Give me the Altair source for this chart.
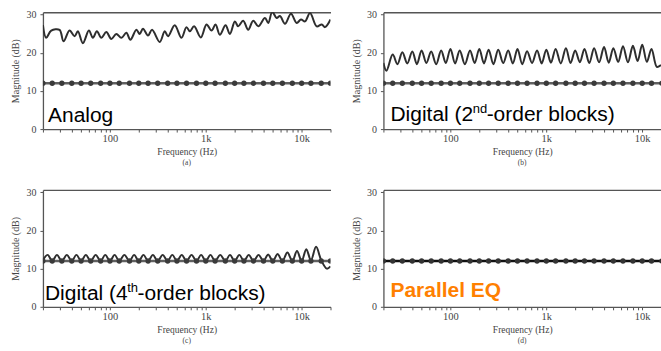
import altair as alt
import pandas as pd

# ---------------- data ----------------
bands = [20, 25, 31.5, 40, 50, 63, 80, 100, 125, 160, 200, 250, 315, 400, 500, 630,
         800, 1000, 1250, 1600, 2000, 2500, 3150, 4000, 5000, 6300, 8000, 10000,
         12500, 16000, 20000]
target_db = [12.0] * len(bands)

analog_f = [20, 21.6, 24.4, 29.8, 32.8, 37.9, 42.8, 46.3, 52.2, 60.3, 66.4, 73.1, 81.3,
            91.7, 103.4, 116.6, 131.6, 148.4, 163.4, 188.7, 204.4, 221.3, 249.5, 275,
            330.7, 373, 403.7, 474.5, 557.4, 629, 681, 755, 887, 1018, 1148, 1264, 1402,
            1608, 1782, 2011, 2178, 2455, 2770, 3124, 3524, 4140, 4483, 4934, 5485, 5940,
            6700, 7740, 8880, 9850, 10840, 12230, 14360, 16210, 17540, 20000]
analog_db = [27.2, 23.9, 25.8, 26.0, 23.0, 25.8, 24.3, 25.6, 22.5, 25.8, 23.9, 25.6, 23.9,
             25.4, 23.6, 24.9, 23.9, 25.2, 23.4, 26.0, 24.9, 26.3, 24.5, 26.0,
             22.8, 25.6, 24.3, 27.2, 23.9, 26.7, 25.6, 26.9, 24.0, 27.4, 25.8, 27.4, 24.7,
             27.2, 24.9, 28.2, 26.9, 28.4, 26.0, 28.4, 26.9, 29.1, 27.8, 30.7, 29.1, 29.6,
             27.6, 30.2, 27.8, 28.7, 28.2, 30.4, 26.9, 27.4, 26.7, 28.7]

d2_f = [20, 21.5, 25, 28, 31.5, 35.5, 40, 44.7, 50, 56.1, 63, 71, 80, 89.4, 100, 111.8,
        125, 141.4, 160, 178.9, 200, 223.6, 250, 280.6, 315, 355, 400, 447.2, 500, 561.2,
        630, 710, 800, 894.4, 1000, 1118, 1250, 1414, 1600, 1789, 2000, 2236, 2500, 2806,
        3150, 3550, 4000, 4472, 5000, 5612, 6300, 7099, 8000, 8944, 10000, 11180, 12500,
        14200, 15700]
d2_db = [17.3, 15.3, 19.5, 17.0, 20.1, 17.2, 20.3, 17.0, 20.6, 17.3, 20.3, 17.0, 20.6, 17.3,
         21.0, 17.2, 20.6, 17.0, 20.6, 17.3, 21.0, 17.2, 20.8, 17.0, 20.8, 17.3, 20.6, 17.2,
         21.0, 17.0, 20.4, 17.3, 20.6, 17.2, 20.8, 17.4, 21.0, 17.2, 21.2, 17.3, 20.6, 17.5,
         21.0, 17.3, 21.2, 17.5, 21.5, 17.4, 21.2, 17.6, 21.7, 17.5, 21.8, 17.8, 22.1, 17.6,
         21.0, 16.3, 16.8]

d4_f = [20, 22.4, 25, 28, 31.5, 35.5, 40, 44.7, 50, 56.1, 63, 71, 80, 89.4, 100, 111.8,
        125, 141.4, 160, 178.9, 200, 223.6, 250, 280.6, 315, 355, 400, 447.2, 500, 561.2,
        630, 710, 800, 894.4, 1000, 1118, 1250, 1414, 1600, 1789, 2000, 2236, 2500, 2806,
        3150, 3550, 4000, 4472, 5000, 5612, 6300, 7099, 8000, 8944, 10000, 11180, 12500,
        14142, 16000, 18300, 20000]
d4_db = [12.2, 13.6, 12.0, 13.6, 12.0, 13.6, 12.0, 13.6, 12.0, 13.6, 12.0, 13.6, 12.0, 13.6,
         12.0, 13.6, 12.0, 13.6, 12.0, 13.6, 12.0, 13.6, 12.0, 13.6, 12.0, 13.6, 12.0, 13.6,
         12.0, 13.6, 12.0, 13.6, 12.0, 13.6, 12.0, 13.6, 12.0, 13.6, 12.0, 13.6, 12.0, 13.6,
         12.0, 13.6, 12.0, 13.6, 12.0, 13.7, 12.0, 13.8, 12.0, 14.2, 12.0, 14.6, 12.0, 15.1,
         12.2, 15.7, 12.2, 10.0, 10.6]

tick_major = [100, 1000, 10000]
tick_minor = [20, 30, 40, 50, 60, 70, 80, 90, 200, 300, 400, 500, 600, 700, 800, 900,
              2000, 3000, 4000, 5000, 6000, 7000, 8000, 9000, 20000]
y_ticks = [0, 10, 20, 30]

# annotation anchors (frequency, dB)
label_a = ["Analog", 22.6, 1.85]
label_b = ["Digital (2", "nd", "-order blocks)", 23.7, 2.1]
label_c = ["Digital (4", "th", "-order blocks)", 21.0, 1.9]
label_d = ["Parallel EQ", 23.7, 2.5]

# ---------------- style ----------------
SERIF = "Liberation Serif"
SANS = "Liberation Sans"
AXC = "#555555"
TXC = "#444444"
PW_L, PW_R, PH = 288, 278, 117


def panel(letter, dmax, width, curve_f, curve_db, texts, line_color, dot_color):
    xs = alt.Scale(type="log", domain=[20, dmax], nice=False)
    ys = alt.Scale(domain=[0, 30.6], nice=False, zero=False)
    bottom_axis = alt.Axis(
        orient="bottom", values=tick_major + tick_minor,
        labelExpr="datum.value == 100 ? '100' : datum.value == 1000 ? '1k' : datum.value == 10000 ? '10k' : ''",
        title="Frequency (Hz)", grid=False, domainColor=AXC, domainWidth=1.3,
        tickColor=AXC, tickSize=3, labelPadding=1.5, labelFont=SERIF, labelFontSize=10.5,
        labelColor=TXC, titleFont=SERIF, titleFontSize=9.5, titleFontWeight="normal",
        titleColor=TXC, titlePadding=2.5, labelFlush=False, labelOverlap=False)
    top_axis = alt.Axis(orient="top", values=tick_major + tick_minor, labels=False,
                        ticks=False, title=None, grid=False, domainColor=AXC,
                        domainWidth=1.3)
    y_axis = alt.Axis(values=y_ticks, title="Magnitude (dB)", grid=False, domainColor=AXC,
                      domainWidth=1.3, tickColor=AXC, tickSize=3, labelPadding=4,
                      labelFont=SERIF, labelFontSize=10, labelColor=TXC,
                      titleFont=SERIF, titleFontSize=10, titleFontWeight="normal",
                      titleColor=TXC, titlePadding=5)

    layers = []
    if curve_f is not None:
        cdf = pd.DataFrame({"f": curve_f, "v": curve_db})
        layers.append(alt.Chart(cdf).mark_line(
            color="#2e2e2e", strokeWidth=2, interpolate="catmull-rom", clip=True).encode(
            x=alt.X("f:Q", scale=xs, axis=None), y=alt.Y("v:Q", scale=ys, axis=y_axis)))
    tdf = pd.DataFrame({"f": bands, "v": target_db})
    layers.append(alt.Chart(tdf).mark_line(color=line_color, strokeWidth=2.6, clip=True).encode(
        x=alt.X("f:Q", scale=xs, axis=top_axis), y=alt.Y("v:Q", scale=ys, axis=y_axis)))
    layers.append(alt.Chart(tdf).mark_circle(color=dot_color, size=28, opacity=1, clip=True).encode(
        x=alt.X("f:Q", scale=xs, axis=None), y=alt.Y("v:Q", scale=ys, axis=y_axis)))

    first = True
    for (txt, f, v, fs, dx, dy, color, weight) in texts:
        tdf2 = pd.DataFrame({"f": [f], "v": [v], "t": [txt]})
        layers.append(alt.Chart(tdf2).mark_text(
            align="left", baseline="alphabetic", font=SANS, fontSize=fs, dx=dx, dy=dy,
            color=color, fontWeight=weight).encode(
            x=alt.X("f:Q", scale=xs, axis=bottom_axis if first else None),
            y=alt.Y("v:Q", scale=ys, axis=y_axis), text="t:N"))
        first = False

    return alt.layer(*layers).resolve_axis(x="independent").properties(
        width=width, height=PH,
        title=alt.TitleParams(f"({letter})", orient="bottom", font=SERIF, fontSize=7.5,
                              fontWeight="normal", color=TXC, offset=3))


FS, SFS = 21, 13
w_b = 3.945 * FS
texts_a = [(label_a[0], label_a[1], label_a[2], FS, 0, 0, "black", "normal")]
texts_b = [(label_b[0], label_b[3], label_b[4], FS, 0, 0, "black", "normal"),
           (label_b[1], label_b[3], label_b[4], SFS, w_b - 0.5, -8, "black", "normal"),
           (label_b[2], label_b[3], label_b[4], FS, w_b + 1.112 * SFS - 1, 0, "black", "normal")]
texts_c = [(label_c[0], label_c[3], label_c[4], FS, 0, 0, "black", "normal"),
           (label_c[1], label_c[3], label_c[4], SFS, w_b - 0.5, -8, "black", "normal"),
           (label_c[2], label_c[3], label_c[4], FS, w_b + 0.834 * SFS - 1, 0, "black", "normal")]
texts_d = [(label_d[0], label_d[1], label_d[2], FS, 0, 0, "#FF8000", "bold")]

pa = panel("a", 20000, PW_L, analog_f, analog_db, texts_a, "#606060", "#3a3a3a")
pb = panel("b", 15700, PW_R, d2_f, d2_db, texts_b, "#606060", "#3a3a3a")
pc = panel("c", 20000, PW_L, d4_f, d4_db, texts_c, "#606060", "#3a3a3a")
pd_ = panel("d", 15700, PW_R, None, None, texts_d, "#111111", "#333333")

chart = alt.vconcat(
    alt.hconcat(pa, pb, spacing=20),
    alt.hconcat(pc, pd_, spacing=20),
    spacing=20,
).configure(padding={"left": 11, "top": 9, "right": 0, "bottom": 0}).configure_view(stroke=None)

chart.save("out.html", embed_options={"renderer": "svg", "actions": False})
